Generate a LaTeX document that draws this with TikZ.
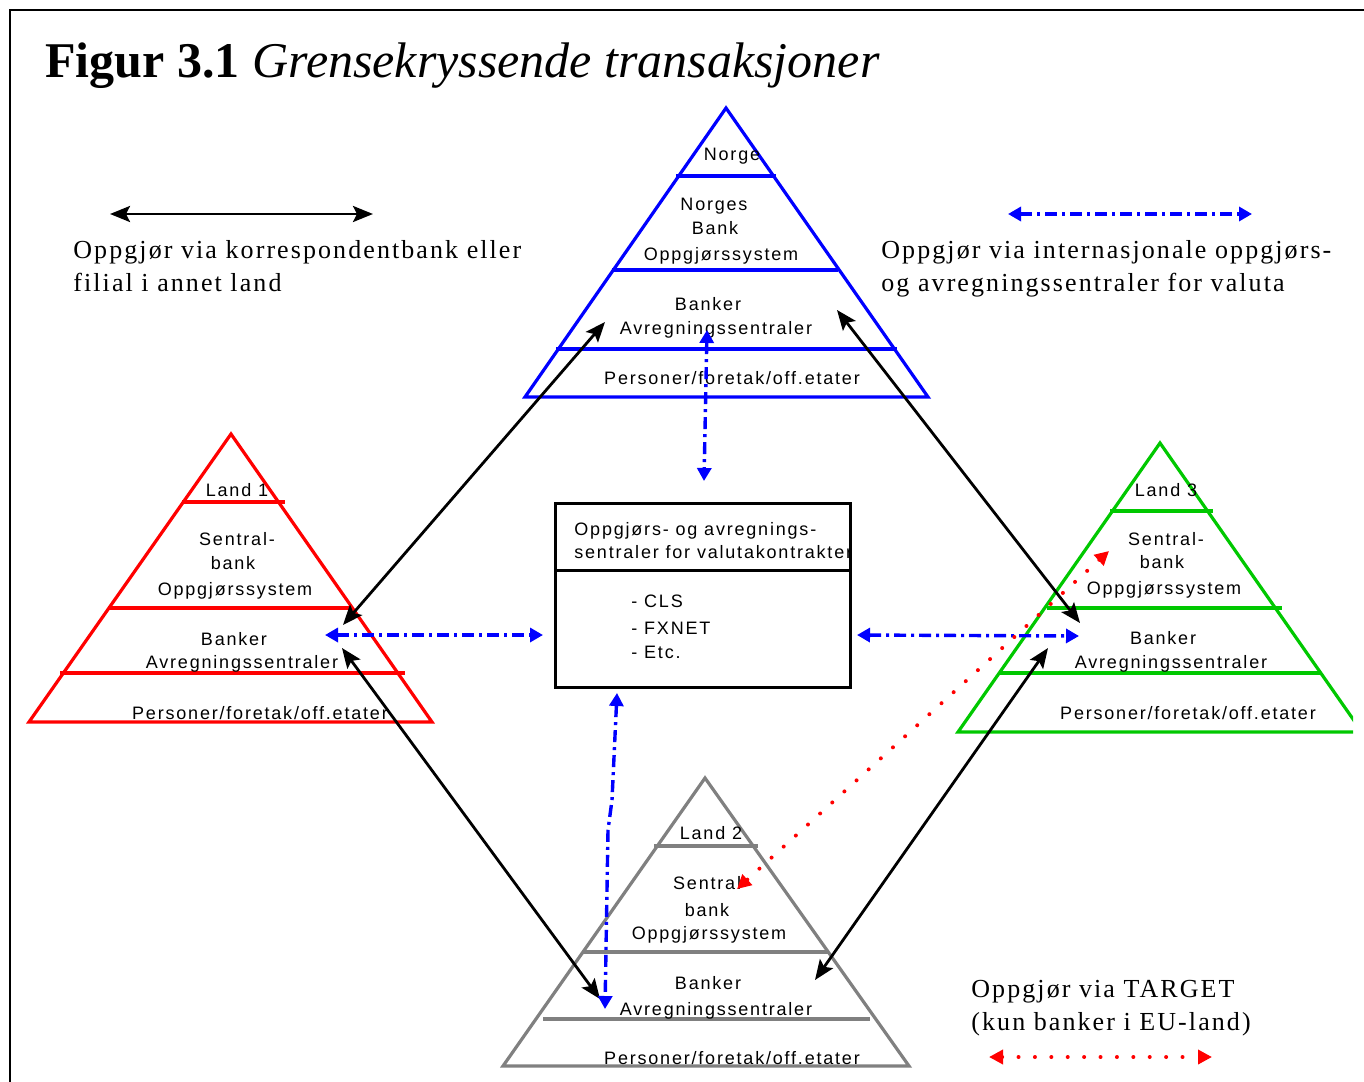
\documentclass[tikz,border=0pt]{standalone}
\usepackage{fontspec}
\setmainfont{Liberation Serif}
\newfontfamily\pyrfont[LetterSpace=10]{Liberation Sans}
\newfontfamily\legfont[LetterSpace=8]{Liberation Serif}
\usetikzlibrary{arrows.meta}
\definecolor{pblue}{RGB}{0,0,255}
\definecolor{pred}{RGB}{255,0,0}
\definecolor{pgreen}{RGB}{0,200,0}
\definecolor{pgray}{RGB}{128,128,128}
\begin{document}
\begin{tikzpicture}[x=0.5pt,y=-0.5pt,
  lbl/.style={anchor=base, font=\pyrfont\fontsize{9}{10}\selectfont, inner sep=0pt},
  lbll/.style={anchor=base west, font=\pyrfont\fontsize{9}{10}\selectfont, inner sep=0pt},
  legtxt/.style={anchor=base west, font=\legfont\fontsize{13}{16.5}\selectfont, inner sep=0pt},
  pyr/.style={line width=1.6pt, line join=miter},
  blk/.style={line width=1.4pt, black, {Stealth[length=10pt,width=8pt,inset=2pt]}-{Stealth[length=10pt,width=8pt,inset=2pt]}},
  bdash/.style={line width=1.7pt, pblue, dash pattern=on 6pt off 2.5pt on 1.5pt off 2.5pt, {Triangle[length=6.5pt,width=7pt]}-{Triangle[length=6.5pt,width=7pt]}},
  rdot/.style={line width=2pt, pred, line cap=round, dash pattern=on 0pt off 8.2pt, {Triangle[length=7pt,width=7pt]}-{Triangle[length=7pt,width=7pt]}},
]
\useasboundingbox (0,0) rectangle (1364,1081);
% frame
\draw[line width=1pt] (10,1090) -- (10,10) -- (1370,10);
% title
\node[anchor=base west, inner sep=0pt, font=\fontsize{25}{30}\selectfont] (title) at (45,78) {\textbf{Figur 3.1} \textit{Grensekryssende transaksjoner}};

% legends
\draw[blk] (110,214) coordinate (lgA) -- (373,214) coordinate (lgB);
\node[legtxt] (legA1) at (73,258) {Oppgjør via korrespondentbank eller};
\node[legtxt] (legA2) at (73,291) {filial i annet land};
\draw[bdash] (1008,214) coordinate (lgC) -- (1252,214) coordinate (lgD);
\node[legtxt] (legB1) at (881,258) {Oppgjør via internasjonale oppgjørs-};
\node[legtxt] (legB2) at (881,291) {og avregningssentraler for valuta};
\node[legtxt] (legC1) at (971,997) {Oppgjør via TARGET};
\node[legtxt] (legC2) at (971,1030) {(kun banker i EU-land)};
\draw[rdot] (989,1057) coordinate (lgE) -- (1212,1057) coordinate (lgF);

% Norge pyramid (blue)
\begin{scope}[pblue]
\draw[pyr] (726,108) -- (928,397) -- (525,397) -- cycle;
\draw[pyr] (676,176) -- (776,176);
\draw[pyr] (612,270) -- (838,270);
\draw[pyr] (556,349) -- (897,349);
\end{scope}
\node[lbl] (n0) at (732,161) {Norge};
\node[lbl] (n1) at (714,210) {Norges};
\node[lbl] (n2) at (715,234) {Bank};
\node[lbl] (n3) at (721,260) {Oppgjørssystem};
\node[lbl] (n4) at (708,310) {Banker};
\node[lbl] (n5) at (716,334) {Avregningssentraler};
\node[lbl] (n6) at (732,384) {Personer/foretak/off.etater};

% Land 1 (red)
\begin{scope}[pred]
\draw[pyr] (231,434) -- (432,722) -- (29,722) -- cycle;
\draw[pyr] (182,502) -- (285,502);
\draw[pyr] (109,608) -- (352,608);
\draw[pyr] (60,673) -- (405,673);
\end{scope}
\node[lbl] (a0) at (237,496) {Land 1};
\node[lbl] (a1) at (237,545) {Sentral-};
\node[lbl] (a2) at (233,569) {bank};
\node[lbl] (a3) at (235,595) {Oppgjørssystem};
\node[lbl] (a4) at (234,645) {Banker};
\node[lbl] (a5) at (242,668) {Avregningssentraler};
\node[lbl] (a6) at (260,719) {Personer/foretak/off.etater};

% Land 3 (green)
\begin{scope}
\clip (0,0) rectangle (1353,1081);
\begin{scope}[pgreen]
\draw[pyr] (1160,443) -- (1362,732) -- (958,732) -- cycle;
\draw[pyr] (1110,511) -- (1213,511);
\draw[pyr] (1047,608) -- (1282,608);
\draw[pyr] (999,673) -- (1320,673);
\end{scope}
\end{scope}
\node[lbl] (c0) at (1166,496) {Land 3};
\node[lbl] (c1) at (1166,545) {Sentral-};
\node[lbl] (c2) at (1162,568) {bank};
\node[lbl] (c3) at (1164,594) {Oppgjørssystem};
\node[lbl] (c4) at (1163,644) {Banker};
\node[lbl] (c5) at (1171,668) {Avregningssentraler};
\node[lbl] (c6) at (1188,719) {Personer/foretak/off.etater};

% Land 2 (gray)
\begin{scope}[pgray]
\draw[pyr] (705,778) -- (909,1066) -- (503,1066) -- cycle;
\draw[pyr] (654,846) -- (758,846);
\draw[pyr] (583,952) -- (829,952);
\draw[pyr] (543,1019) -- (870,1019);
\end{scope}
\node[lbl] (b0) at (711,839) {Land 2};
\node[lbl] (b1) at (711,889) {Sentral-};
\node[lbl] (b2) at (707,916) {bank};
\node[lbl] (b3) at (709,939) {Oppgjørssystem};
\node[lbl] (b4) at (708,989) {Banker};
\node[lbl] (b5) at (716,1015) {Avregningssentraler};
\node[lbl] (b6) at (732,1064) {Personer/foretak/off.etater};

% central box
\draw[line width=1.5pt] (555,503) rectangle (850,687);
\draw[line width=1.5pt] (555,570) -- (850,570);
\node[lbll] (x1) at (574,535) {Oppgjørs- og avregnings-};
\node[lbll] (x2) at (574,558) {sentraler for valutakontrakter};
\node[lbll] (x3) at (631,607) {- CLS};
\node[lbll] (x4) at (631,634) {- FXNET};
\node[lbll] (x5) at (631,658) {- Etc.};

% connector end points
\coordinate (pN1) at (605,322);
\coordinate (pN2) at (837,310);
\coordinate (pA1) at (343,625);
\coordinate (pA2) at (342,648);
\coordinate (pC1) at (1080,623);
\coordinate (pC2) at (1048,648);
\coordinate (pB1) at (600,999);
\coordinate (pB2) at (815,980);
\coordinate (vN) at (707,330);
\coordinate (vX) at (704,481);
\coordinate (hA) at (325,635);
\coordinate (hXl) at (543,635);
\coordinate (hXr) at (857,635);
\coordinate (hC) at (1079,636);
\coordinate (vXb) at (617,693);
\coordinate (vB) at (605,1009);
\coordinate (rC) at (1109,551);
\coordinate (rB) at (737,889);

% black correspondent arrows
\draw[blk] (pN1) -- (pA1);
\draw[blk] (pN2) -- (pC1);
\draw[blk] (pA2) -- (pB1);
\draw[blk] (pC2) -- (pB2);

% blue dash-dot arrows
\draw[bdash] (vN) -- (vX);
\draw[bdash] (hA) -- (hXl);
\draw[bdash] (hXr) -- (hC);
\draw[bdash] (vXb) -- (612,800) -- (608,830) -- (vB);

% red TARGET
\draw[rdot] (rC) -- (rB);
\end{tikzpicture}
\end{document}
